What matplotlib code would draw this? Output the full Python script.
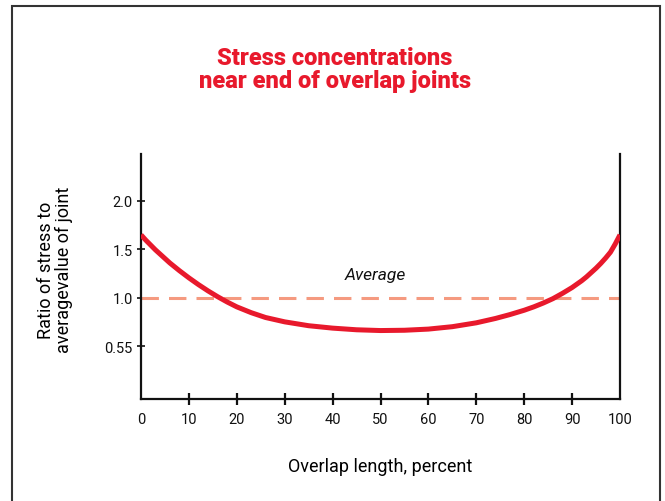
import matplotlib
matplotlib.use("Agg")
import matplotlib.pyplot as plt
from matplotlib.patches import Rectangle

# values
overlap_pct = [0, 1, 2, 3, 4, 5, 6, 8, 10, 12, 14, 16, 18, 20, 23, 26, 30,
               35, 40, 45, 50, 55, 60, 65, 70, 74, 77, 80, 82, 84, 86, 88,
               90, 92, 93, 94, 95, 96, 97, 98, 99, 100]
stress_ratio = [1.65, 1.595, 1.545, 1.495, 1.45, 1.405, 1.36, 1.28, 1.205,
                1.135, 1.07, 1.01, 0.955, 0.905, 0.845, 0.795, 0.75, 0.71,
                0.685, 0.668, 0.66, 0.663, 0.675, 0.70, 0.74, 0.785, 0.825,
                0.87, 0.905, 0.945, 0.99, 1.045, 1.105, 1.175, 1.215, 1.26,
                1.305, 1.355, 1.41, 1.47, 1.555, 1.65]
average_level = 1.0

x_ticks = [0, 10, 20, 30, 40, 50, 60, 70, 80, 90, 100]
y_ticks = [0.5, 1.0, 1.5, 2.0]
y_tick_labels = ["0.55", "1.0", "1.5", "2.0"]

condensed = ["Liberation Sans Narrow", "Roboto", "DejaVu Sans"]
plt.rcParams["font.family"] = condensed

fig = plt.figure(figsize=(6.65, 5.02), dpi=100)
ax = fig.add_axes([141 / 665, 1 - 400 / 502, 479 / 665, 245 / 502])

ax.plot(overlap_pct, stress_ratio, color="#e8192c", lw=3.6,
        solid_capstyle="butt", solid_joinstyle="round", zorder=3)
ax.plot([0, 100], [average_level, average_level], color="#f59a80", lw=2.2,
        dashes=(5.7, 3.3), zorder=2)
ax.text(49, 1.24, "Average", style="italic", fontsize=12.5, ha="center",
        va="center", color="#111111")

ax.set_xlim(0, 100)
ax.set_ylim(-0.048, 2.486)
ax.set_xticks(x_ticks)
ax.set_yticks(y_ticks)
ax.set_yticklabels(y_tick_labels)

for side in ["left", "right", "bottom"]:
    ax.spines[side].set_linewidth(1.6)
    ax.spines[side].set_color("#111111")
ax.spines["top"].set_visible(False)

ax.tick_params(axis="x", direction="inout", length=9, width=1.6,
               pad=5, labelsize=10.5, colors="#111111")
ax.tick_params(axis="y", direction="inout", length=6, width=1.2,
               pad=3, labelsize=10.5, colors="#111111")
xt = ax.xaxis.get_major_ticks()
xt[0].tick1line.set_visible(False)
xt[-1].tick1line.set_visible(False)

ax.set_xlabel("Overlap length, percent", fontsize=13, labelpad=22)
fig.text(55 / 665, 1 - 270 / 502, "Ratio of stress to\naveragevalue of joint",
         rotation=90, ha="center", va="center", fontsize=13, linespacing=1.0)

fig.text(335 / 665, 1 - 70 / 502,
         "Stress concentrations\nnear end of overlap joints",
         ha="center", va="center", fontsize=17, fontweight="black",
         color="#e8192c", linespacing=1.05)

# frame around the figure
fig.patches.append(Rectangle((12 / 665, -0.1), 648 / 665, 1.1 - 7 / 502,
                             transform=fig.transFigure, fill=False,
                             edgecolor="#333333", lw=1.5))

fig.savefig("out.png", dpi=100)
